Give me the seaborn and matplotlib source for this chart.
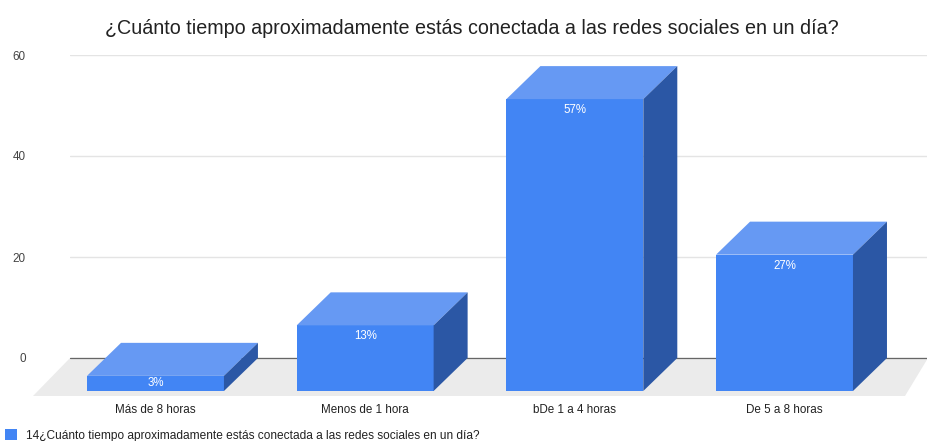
#!/usr/bin/env python3
import matplotlib
matplotlib.use("Agg")
import matplotlib.pyplot as plt
import pandas as pd
import seaborn as sns
from matplotlib.patches import Patch, Polygon

categories = ["Más de 8 horas", "Menos de 1 hora", "bDe 1 a 4 horas", "De 5 a 8 horas"]
values = [3, 13, 57.8, 27]
value_labels = ["3%", "13%", "57%", "27%"]
y_ticks = [0, 20, 40, 60]
title = "¿Cuánto tiempo aproximadamente estás conectada a las redes sociales en un día?"
series_name = "14¿Cuánto tiempo aproximadamente estás conectada a las redes sociales en un día?"

FRONT = "#4285f4"
TOP = "#6699f3"
SIDE = "#2b57a5"

sns.set_theme(style="whitegrid")
plt.rcParams["font.family"] = ["Liberation Sans", "DejaVu Sans"]

W, H = 928, 441
fig = plt.figure(figsize=(W / 100, H / 100), dpi=100)
ax = fig.add_axes([70 / W, 45 / H, 858 / W, 341 / H])

df = pd.DataFrame({"cat": categories, "val": values})
sns.barplot(data=df, x="cat", y="val", color=FRONT, saturation=1, width=0.653, ax=ax, zorder=3)

# one unit on each axis, in pixels
px_x = 209.7
px_y = 5.05
ax.set_xlim(-85.5 / px_x, 3 + 143.5 / px_x)
ax.set_ylim(-38 / px_y, 60)

# depth of the fake 3d boxes
dx = 34 / px_x
dy = 33 / px_y
floor = -dy

x0, x1 = ax.get_xlim()
y0 = ax.get_ylim()[0]
ax.add_patch(Polygon([(x0 - 37 / px_x, y0), (x0, 0), (x1, 0), (x1 - 23 / px_x, y0)],
                     closed=True, fc="#ebebeb", ec="none", zorder=1, clip_on=False))
ax.axhline(0, color="#666666", lw=0.9, zorder=2)

for bar, label in zip(ax.patches[:len(values)], value_labels):
    bar.set_y(floor)
    bar.set_edgecolor("none")
    left, right = bar.get_x(), bar.get_x() + bar.get_width()
    top = floor + bar.get_height()
    ax.add_patch(Polygon([(left, top), (right, top), (right + dx, top + dy), (left + dx, top + dy)],
                         closed=True, fc=TOP, ec="none", zorder=3))
    ax.add_patch(Polygon([(right, floor), (right, top), (right + dx, top + dy), (right + dx, floor + dy)],
                         closed=True, fc=SIDE, ec="none", zorder=3))
    # labels sit near the top of the face, short bars get them centred
    drop = min(11, bar.get_height() * px_y / 2) * 0.72
    ax.annotate(label, xy=((left + right) / 2, top), xytext=(0, -drop), textcoords="offset points",
                ha="center", va="center", color="white", fontsize=8.3, zorder=4)

ax.set_yticks(y_ticks)
ax.set_xlabel("")
ax.set_ylabel("")
ax.grid(axis="x", visible=False)
ax.grid(axis="y", color="#e4e4e4", lw=1.0)
ax.set_axisbelow(True)
ax.tick_params(axis="x", length=0, pad=6, labelsize=8.4, labelcolor="#222222")
ax.tick_params(axis="y", length=0, pad=32, labelsize=8.4, labelcolor="#444444")
sns.despine(ax=ax, left=True, bottom=True)

fig.text(472 / W, 1 - 28.5 / H, title, ha="center", va="center", fontsize=14.2, color="#222222")

leg_handle = Patch(facecolor=FRONT, edgecolor="none", label=series_name)
fig.legend(handles=[leg_handle], loc="center left", bbox_to_anchor=(0, 1 - 435.5 / H), frameon=False,
           fontsize=8.55, handlelength=1.0, handleheight=1.0, handletextpad=0.76,
           borderpad=0, borderaxespad=0.4, labelcolor="#222222")

fig.savefig("out.png", dpi=100)
